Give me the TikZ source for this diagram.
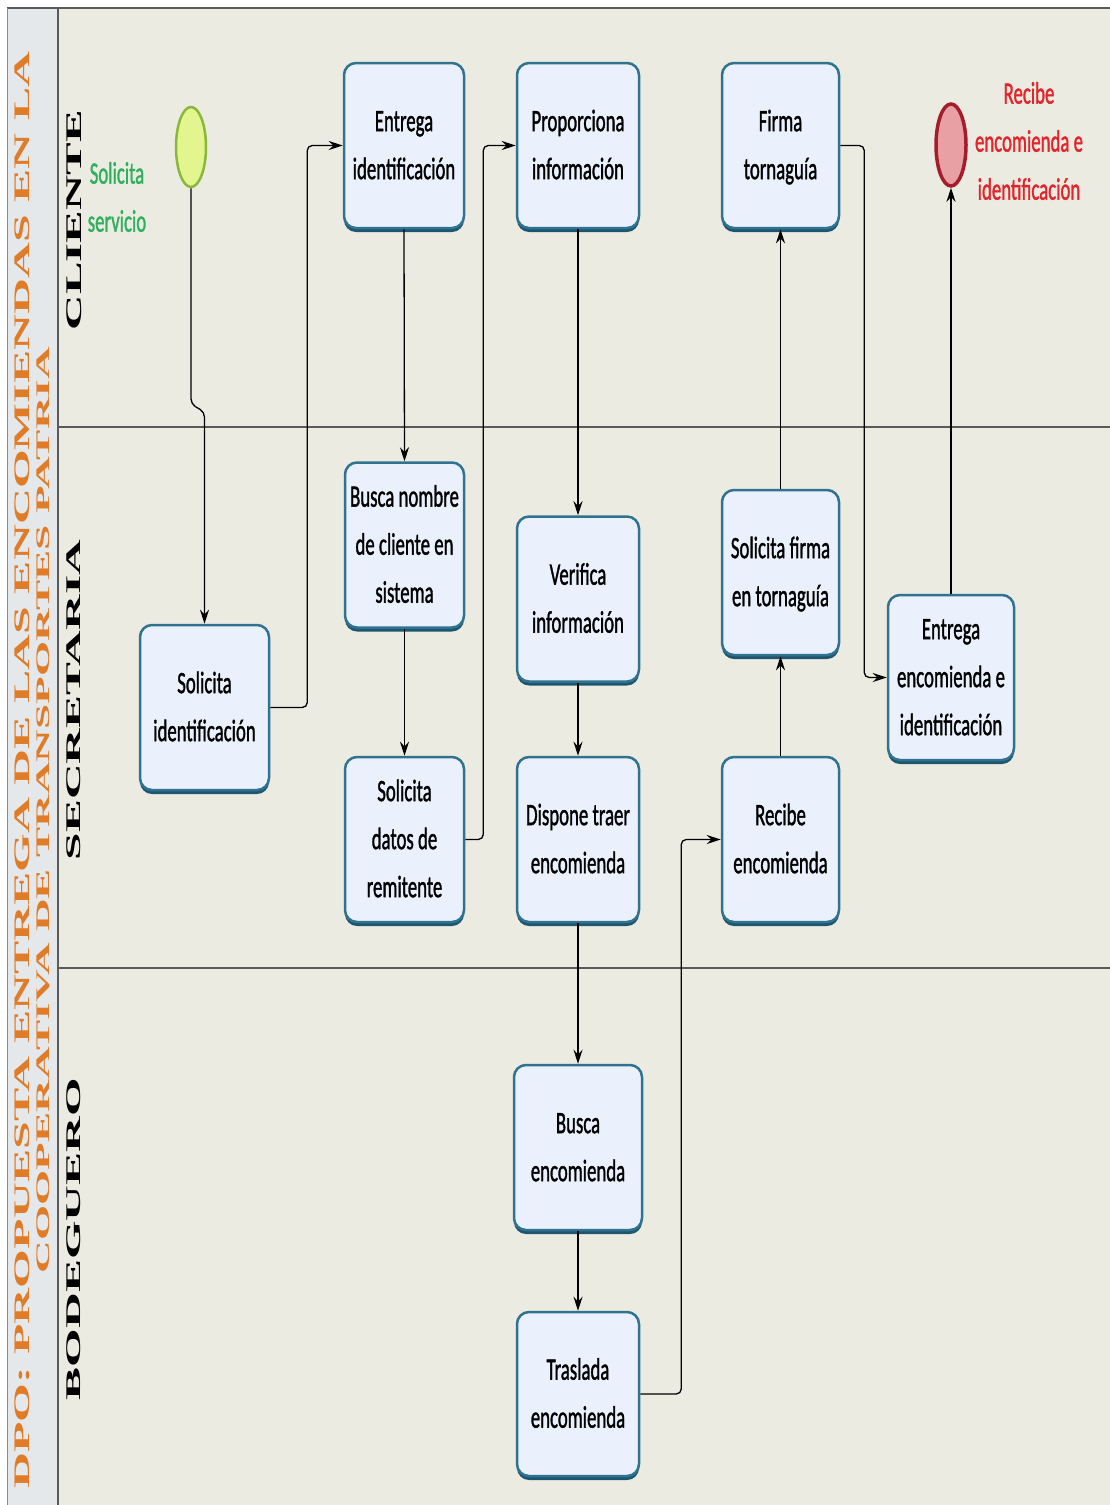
\documentclass[tikz,border=0pt]{standalone}
\usepackage{fontspec}
\setmainfont{Carlito}[FakeBold=1.6]
\newfontfamily\serifb{Liberation Serif}
\usetikzlibrary{arrows.meta,shadows,shapes.geometric}
\definecolor{lanebg}{HTML}{ECEBE1}
\definecolor{titlebg}{HTML}{E4E8EA}
\definecolor{titleor}{HTML}{E07B28}
\definecolor{laneline}{HTML}{5A5A5A}
\definecolor{taskfill}{HTML}{EAF1FC}
\definecolor{taskline}{HTML}{2F7391}
\definecolor{taskshadow}{HTML}{1E5670}
\definecolor{startfill}{HTML}{E2F58E}
\definecolor{startline}{HTML}{8AB83A}
\definecolor{endfill}{HTML}{E8A0A5}
\definecolor{endline}{HTML}{A31D2B}
\definecolor{startgreen}{HTML}{2FB05E}
\definecolor{endred}{HTML}{E3242B}
\newcommand{\bx}[1]{\scalebox{1}[1.65]{\fontsize{18.8}{29.1}\selectfont\begin{tabular}{@{}c@{}}#1\end{tabular}}}
\newcommand{\rotlabel}[3]{\resizebox{#1}{#2}{\rotatebox{90}{\serifb\bfseries #3}}}
\tikzset{
  task/.style={draw=taskline, line width=2.5pt, fill=taskfill, rounded corners=12pt,
    minimum height=165pt, inner sep=0pt,
    drop shadow={shadow xshift=0pt, shadow yshift=-4pt, fill=taskshadow, opacity=1}},
  flow/.style={draw=black, line width=1.3pt, -{Stealth[length=14pt,width=9pt]}, rounded corners=5pt},
  evlabel/.style={inner sep=0pt},
}
\begin{document}
\begin{tikzpicture}[x=1pt,y=-1pt]
\useasboundingbox (0,0) rectangle (1110,1505);
\fill[white] (0,0) rectangle (1110,1505);
\fill[titlebg] (7,8) rectangle (58,1505);
\fill[lanebg] (58,8) rectangle (1110,1505);
\draw[laneline, line width=2pt] (7,8) -- (1110,8);
\draw[laneline!70, line width=0.8pt] (7,8) -- (7,1505);
\draw[laneline, line width=1.2pt] (58,8) -- (58,1505);
\draw[laneline, line width=2pt] (58,427) -- (1110,427);
\draw[laneline, line width=2pt] (58,968) -- (1110,968);

% title
\node[inner sep=0pt, text=titleor] (title1) at (22,770) {\rotlabel{15pt}{1437pt}{DPO: PROPUESTA ENTREGA DE LAS ENCOMIENDAS EN LA}};
\node[inner sep=0pt, text=titleor] (title2) at (43,810) {\rotlabel{13pt}{926pt}{COOPERATIVA DE TRANSPORTES PATRIA}};
% lanes
\node[inner sep=0pt] (lane1) at (74,220) {\rotlabel{15pt}{220pt}{CLIENTE}};
\node[inner sep=0pt] (lane2) at (74,700) {\rotlabel{14pt}{320pt}{SECRETARIA}};
\node[inner sep=0pt] (lane3) at (74,1239) {\rotlabel{14pt}{322pt}{BODEGUERO}};

% events
\node[ellipse, draw=startline, line width=2.5pt, fill=startfill, minimum width=30pt, minimum height=80pt, inner sep=0pt] (s) at (191,147) {};
\node[evlabel, text=startgreen] (sl) at (117,198) {\bx{Solicita\\servicio}};
\node[ellipse, draw=endline, line width=3.5pt, fill=endfill, minimum width=30pt, minimum height=82pt, inner sep=0pt] (e) at (951,145) {};
\node[evlabel, text=endred] (el) at (1029,142) {\bx{Recibe\\encomienda e\\identificación}};

% tasks
\node[task, minimum width=120pt] (t1) at (404,145.5) {\bx{Entrega\\identificación}};
\node[task, minimum width=122pt] (t2) at (578,145.5) {\bx{Proporciona\\información}};
\node[task, minimum width=117pt] (t3) at (780.5,145.5) {\bx{Firma\\tornaguía}};
\node[task, minimum width=119pt] (t4) at (404.5,545) {\bx{Busca nombre\\de cliente en\\sistema}};
\node[task, minimum width=122pt] (t5) at (578,599) {\bx{Verifica\\información}};
\node[task, minimum width=117pt] (t6) at (780.5,572.5) {\bx{Solicita firma\\en tornaguía}};
\node[task, minimum width=129pt] (t7) at (204.5,707.5) {\bx{Solicita\\identificación}};
\node[task, minimum width=126pt] (t8) at (951,677.5) {\bx{Entrega\\encomienda e\\identificación}};
\node[task, minimum width=119pt] (t9) at (404.5,839.5) {\bx{Solicita\\datos de\\remitente}};
\node[task, minimum width=122pt] (t10) at (578,839.5) {\bx{Dispone traer\\encomienda}};
\node[task, minimum width=117pt] (t11) at (780.5,839.5) {\bx{Recibe\\encomienda}};
\node[task, minimum width=128pt] (t12) at (578,1147.5) {\bx{Busca\\encomienda}};
\node[task, minimum width=122pt, minimum height=164pt] (t13) at (578,1394) {\bx{Traslada\\encomienda}};

% flows
\draw[flow] (s.south) -- (191,404) -- (204.5,412) -- (t7.north);
\draw[flow] (t7.east) -- ++(37,0) |- (t1.west);
\draw[flow] (t1.south) -- (t4.north);
\draw[flow] (t4.south) -- (t9.north);
\draw[flow] (t9.east) -- ++(18,0) |- (t2.west);
\draw[flow] (t2.south) -- (t5.north);
\draw[flow] (t5.south) -- (t10.north);
\draw[flow] (t10.south) -- (t12.north);
\draw[flow] (t12.south) -- (t13.north);
\draw[flow] (t13.east) -- ++(41,0) |- (t11.west);
\draw[flow] (t11.north) -- (t6.south);
\draw[flow] (t6.north) -- (t3.south);
\draw[flow] (t3.east) -- ++(24,0) |- (t8.west);
\draw[flow] (t8.north) -- (e.south);
\end{tikzpicture}
\end{document}
